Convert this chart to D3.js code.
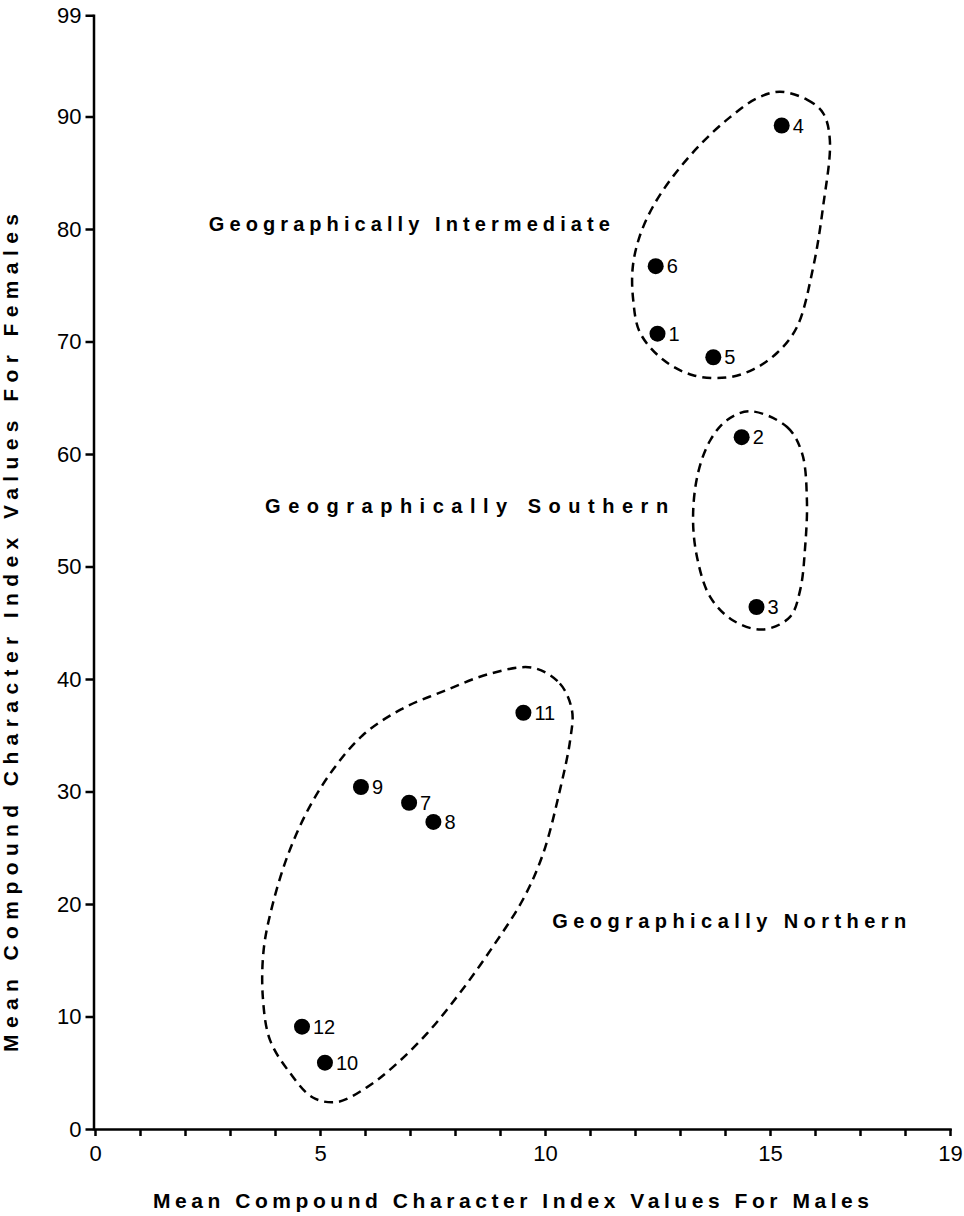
<!DOCTYPE html>
<html>
<head>
<meta charset="utf-8">
<script src="https://cdn.jsdelivr.net/npm/d3@7"></script>
<style>
  body { margin: 0; background: #fff; }
  svg { display: block; font-family: "Liberation Sans", Arial, Helvetica, sans-serif; }
  .axis path, .axis line { stroke: #000; stroke-width: 2.5; }
  .axis text { font-size: 22px; fill: #000; font-family: "Liberation Sans", Arial, Helvetica, sans-serif; }
</style>
</head>
<body>
<svg width="964" height="1216"></svg>
<script>
// population ids and their mean compound character index values
var ids = [1, 2, 3, 4, 5, 6, 7, 8, 9, 10, 11, 12];
var males = [12.5, 14.37, 14.7, 15.26, 13.74, 12.46, 6.98, 7.52, 5.91, 5.11, 9.52, 4.6];
var females = [70.7, 61.5, 46.4, 89.2, 68.6, 76.7, 29.0, 27.3, 30.4, 5.9, 37.0, 9.1];

var xTicks = d3.range(0, 20);
var xLabels = [0, 5, 10, 15, 19];
var yTicks = [0, 10, 20, 30, 40, 50, 60, 70, 80, 90, 99];

// outlines drawn round each group (male, female values)
var hullIntermediate = [[15.22, 92.2], [15.82, 91.5], [16.18, 90.3], [16.33, 87.9], [16.18, 82.0],
  [15.96, 76.6], [15.6, 71.3], [15.16, 69.0], [14.62, 67.5], [14.04, 66.8], [13.29, 67.0],
  [12.62, 68.4], [12.11, 70.8], [11.96, 73.7], [11.95, 76.6], [12.1, 79.3], [12.4, 82.0],
  [12.85, 84.7], [13.45, 87.5], [14.1, 89.9], [14.7, 91.6]];
var hullSouthern = [[14.56, 63.8], [15.38, 62.4], [15.71, 60.1], [15.82, 55.9], [15.78, 51.7],
  [15.67, 47.9], [15.44, 45.5], [14.84, 44.4], [14.18, 45.2], [13.67, 47.3], [13.38, 50.8],
  [13.29, 54.4], [13.4, 58.3], [13.67, 61.2], [14.04, 63.0]];
var hullNorthern = [[9.73, 41.0], [10.33, 39.6], [10.6, 37.2], [10.56, 34.6], [10.33, 30.1],
  [9.96, 24.5], [9.51, 20.4], [8.84, 16.2], [8.11, 12.1], [7.38, 8.5], [6.62, 5.5], [6.04, 3.7],
  [5.38, 2.4], [4.84, 2.8], [4.33, 5.0], [3.89, 7.9], [3.73, 11.7], [3.75, 16.0], [3.95, 20.0],
  [4.3, 24.5], [4.75, 28.5], [5.3, 32.0], [5.95, 35.0], [6.8, 37.3], [7.8, 39.0], [8.8, 40.5]];

var groupNames = ["Geographically Intermediate", "Geographically Southern", "Geographically Northern"];
var groupAt = [[2.53, 79.8], [3.78, 54.8], [10.16, 17.9]];

var svg = d3.select("svg");

var x = d3.scaleLinear().domain([0, 19]).range([95, 950]),
    y = d3.scaleLinear().domain([0, 99]).range([1129, 15.25]);

// axes
svg.append("g")
    .attr("class", "axis")
    .attr("transform", "translate(0," + y(0) + ")")
    .call(d3.axisBottom(x)
      .tickValues(xTicks)
      .tickSize(7)
      .tickSizeOuter(0)
      .tickPadding(9)
      .tickFormat(function(d) { return xLabels.indexOf(d) >= 0 ? d : ""; }));

svg.append("g")
    .attr("class", "axis")
    .attr("transform", "translate(" + (x(0) - 1.5) + ",0)")
    .call(d3.axisLeft(y)
      .tickValues(yTicks)
      .tickSize(8)
      .tickSizeOuter(0)
      .tickPadding(4));

svg.selectAll(".axis .domain").attr("stroke-linecap", "square");

// axis titles
svg.append("text")
    .attr("x", 153)
    .attr("y", 1208)
    .attr("textLength", 716)
    .attr("lengthAdjust", "spacing")
    .attr("font-size", 21)
    .attr("font-weight", "bold")
    .text("Mean Compound Character Index Values For Males");

svg.append("text")
    .attr("transform", "translate(18,1052) rotate(-90)")
    .attr("textLength", 838)
    .attr("lengthAdjust", "spacing")
    .attr("font-size", 21)
    .attr("font-weight", "bold")
    .text("Mean Compound Character Index Values For Females");

// dashed outlines
var outline = d3.line()
    .x(function(d) { return x(d[0]); })
    .y(function(d) { return y(d[1]); })
    .curve(d3.curveCatmullRomClosed.alpha(0.5));

svg.selectAll(".hull")
    .data([hullIntermediate, hullSouthern, hullNorthern])
    .enter().append("path")
    .attr("class", "hull")
    .attr("d", outline)
    .attr("fill", "none")
    .attr("stroke", "#000")
    .attr("stroke-width", 2.5)
    .attr("stroke-dasharray", "9,6");

// group labels
var widths = [401, 403, 354];
svg.selectAll(".group")
    .data(groupNames)
    .enter().append("text")
    .attr("class", "group")
    .attr("x", function(d, i) { return x(groupAt[i][0]); })
    .attr("y", function(d, i) { return y(groupAt[i][1]); })
    .attr("textLength", function(d, i) { return widths[i]; })
    .attr("lengthAdjust", "spacing")
    .attr("font-size", 20)
    .attr("font-weight", "bold")
    .text(function(d) { return d; });

// points
var pts = ids.map(function(id, i) { return {id: id, m: males[i], f: females[i]}; });

svg.selectAll(".dot")
    .data(pts)
    .enter().append("circle")
    .attr("class", "dot")
    .attr("cx", function(d) { return x(d.m); })
    .attr("cy", function(d) { return y(d.f); })
    .attr("r", 8)
    .attr("fill", "#000");

svg.selectAll(".lbl")
    .data(pts)
    .enter().append("text")
    .attr("class", "lbl")
    .attr("x", function(d) { return x(d.m) + 11; })
    .attr("y", function(d) { return y(d.f) + 7; })
    .attr("font-size", 20)
    .text(function(d) { return d.id; });
</script>
</body>
</html>
